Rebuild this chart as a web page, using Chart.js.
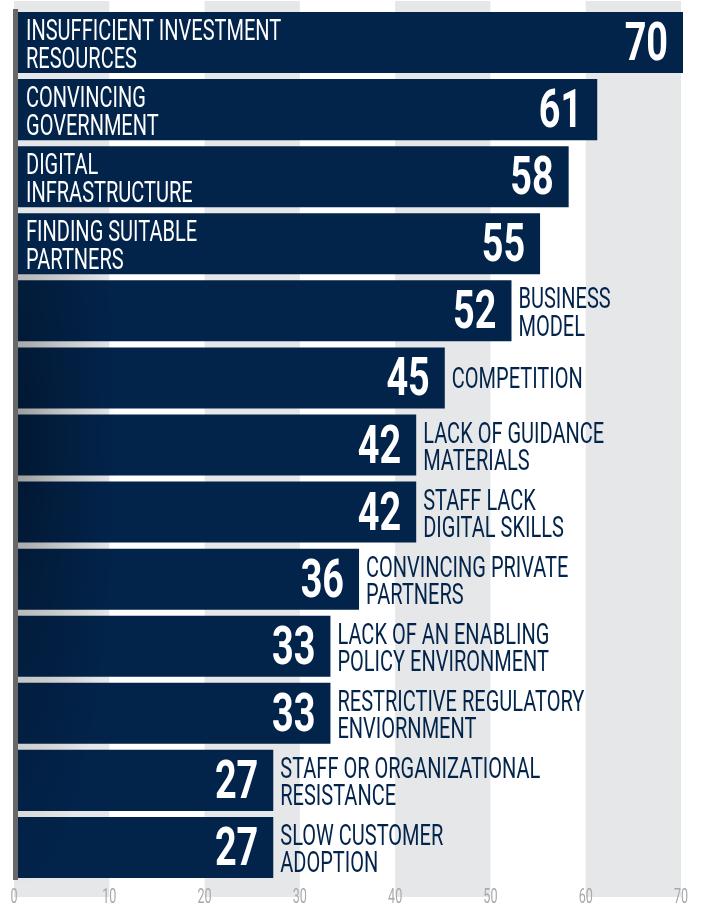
<!DOCTYPE html>
<html>
<head>
<meta charset="utf-8">
<script src="https://cdn.jsdelivr.net/npm/chart.js@4/dist/chart.umd.min.js"></script>
<style>
  html, body { margin: 0; padding: 0; background: #ffffff; }
  #wrap { position: relative; width: 705px; height: 905px; }
</style>
</head>
<body>
<div id="wrap"><canvas id="c"></canvas></div>
<script>
// ---- DATA ----
const categories = [
  ['INSUFFICIENT INVESTMENT', 'RESOURCES'],
  ['CONVINCING', 'GOVERNMENT'],
  ['DIGITAL', 'INFRASTRUCTURE'],
  ['FINDING SUITABLE', 'PARTNERS'],
  ['BUSINESS', 'MODEL'],
  ['COMPETITION'],
  ['LACK OF GUIDANCE', 'MATERIALS'],
  ['STAFF LACK', 'DIGITAL SKILLS'],
  ['CONVINCING PRIVATE', 'PARTNERS'],
  ['LACK OF AN ENABLING', 'POLICY ENVIRONMENT'],
  ['RESTRICTIVE REGULATORY', 'ENVIORNMENT'],
  ['STAFF OR ORGANIZATIONAL', 'RESISTANCE'],
  ['SLOW CUSTOMER', 'ADOPTION']
];
const values = [70, 61, 58, 55, 52, 45, 42, 42, 36, 33, 33, 27, 27];
const labelInside = [true, true, true, true, false, false, false, false, false, false, false, false, false];
const tickValues = [0, 10, 20, 30, 40, 50, 60, 70];
const shadedBands = [[0, 10], [20, 30], [40, 50], [60, 70]];

// ---- STYLE ----
const NAVY = '#02234a';
const BAND = '#e6e7e8';
const AXIS = '#686868';
const TICK = '#a7a9ac';
const FONT = 'Roboto, "Liberation Sans", sans-serif';

function condText(ctx, text, x, y, font, sx, align, color) {
  ctx.save();
  ctx.font = font;
  ctx.fillStyle = color;
  ctx.textBaseline = 'alphabetic';
  ctx.textAlign = align;
  ctx.translate(x, y);
  ctx.scale(sx, 1);
  ctx.fillText(text, 0, 0);
  ctx.restore();
}

const backgroundPlugin = {
  id: 'bgBands',
  beforeDatasetsDraw(chart) {
    const ctx = chart.ctx;
    const x = chart.scales.x;
    ctx.save();
    ctx.fillStyle = BAND;
    shadedBands.forEach(([a, b]) => {
      const xa = x.getPixelForValue(a) - 2;
      const xb = x.getPixelForValue(b) - 2;
      ctx.fillRect(xa, 1, xb - xa, 896);
    });
    ctx.restore();
  }
};

const overlayPlugin = {
  id: 'overlay',
  afterDatasetsDraw(chart) {
    const ctx = chart.ctx;
    const meta = chart.getDatasetMeta(0);
    const x = chart.scales.x;
    const area = chart.chartArea;
    const x0 = x.getPixelForValue(0);

    // left shading over lower bars
    const startBar = meta.data[4];
    const yStart = startBar.y - startBar.height / 2 - 7;
    ctx.save();
    ctx.beginPath();
    ctx.rect(x0, yStart, 110, area.bottom - yStart);
    ctx.clip();
    ctx.translate(x0, 440);
    ctx.scale(1, 4.6);
    const g = ctx.createRadialGradient(0, 0, 0, 0, 0, 100);
    g.addColorStop(0, 'rgba(0,0,0,0.34)');
    g.addColorStop(0.45, 'rgba(0,0,0,0.16)');
    g.addColorStop(1, 'rgba(0,0,0,0)');
    ctx.fillStyle = g;
    ctx.fillRect(-10, -200, 130, 400);
    ctx.restore();

    // axis line
    ctx.save();
    ctx.fillStyle = AXIS;
    ctx.fillRect(x0 - 3, area.top, 5, area.bottom - area.top - 1);
    ctx.restore();

    // labels
    meta.data.forEach((bar, i) => {
      const cy = bar.y;
      const barEnd = bar.x;
      const barStart = bar.base;
      // value
      condText(ctx, String(values[i]), barEnd - 15, cy + 17.5,
        'bold 54px ' + FONT, 0.7, 'right', '#ffffff');
      // category
      const lines = categories[i];
      const inside = labelInside[i];
      const lx = inside ? barStart + 10 : barEnd + 7;
      const col = inside ? '#ffffff' : NAVY;
      const f = '400 29px ' + FONT;
      const sx = 0.69;
      if (lines.length === 1) {
        condText(ctx, lines[0], lx, cy + 10.5, f, sx, 'left', col);
      } else {
        condText(ctx, lines[0], lx, cy - 2.5, f, sx, 'left', col);
        condText(ctx, lines[1], lx, cy + 25, f, sx, 'left', col);
      }
    });

    // tick labels
    tickValues.forEach(v => {
      condText(ctx, String(v), x.getPixelForValue(v) - 2, 903,
        '21px ' + FONT, 0.6, 'center', TICK);
    });
  }
};

new Chart(document.getElementById('c'), {
  type: 'bar',
  data: {
    labels: categories,
    datasets: [{
      data: values,
      backgroundColor: NAVY,
      borderWidth: 0,
      barPercentage: 0.91,
      categoryPercentage: 1.0
    }]
  },
  options: {
    indexAxis: 'y',
    responsive: true,
    maintainAspectRatio: false,
    animation: false,
    layout: { padding: { left: 16, right: 22, top: 9, bottom: 24 } },
    plugins: { legend: { display: false }, tooltip: { enabled: false } },
    scales: {
      x: { display: false, min: 0, max: 70, grid: { display: false } },
      y: { display: false, grid: { display: false } }
    }
  },
  plugins: [backgroundPlugin, overlayPlugin]
});
</script>
</body>
</html>
